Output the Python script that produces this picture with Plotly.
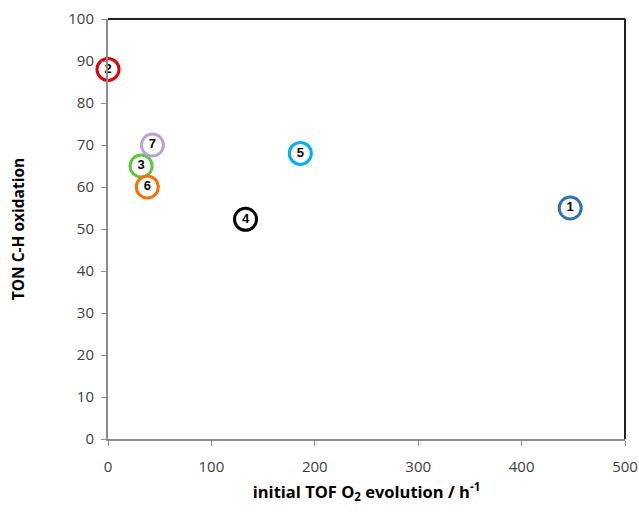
import plotly.graph_objects as go

labels = ["1", "2", "3", "4", "5", "6", "7"]
tof = [447, 0, 32, 133, 186, 38, 43]
ton = [55, 88, 65, 52.3, 68, 60, 70]
colors = ["#2E75B6", "#E00000", "#5CC83A", "#000000", "#00B0F0", "#FF6D00", "#B7A3D3"]

fig = go.Figure()
fig.add_trace(go.Scatter(
    x=tof, y=ton, mode="markers+text",
    text=labels, textposition="middle center",
    textfont=dict(family="Liberation Sans", size=13, color="#000000", weight="bold"),
    marker=dict(size=22, color="white", line=dict(color=colors, width=3)),
    cliponaxis=False, showlegend=False,
))

fig.update_layout(
    width=639, height=516,
    margin=dict(l=108, r=14, t=19, b=77),
    paper_bgcolor="white", plot_bgcolor="white",
    font=dict(family="Open Sans", size=15, color="#404040"),
    xaxis=dict(range=[0, 500], dtick=100, showgrid=False, zeroline=False,
               automargin=False,
               showline=True, linecolor="#8c8c8c", linewidth=2,
               ticks="outside", ticklen=5, tickcolor="#8c8c8c",
               ticklabelstandoff=8,
               tickfont=dict(size=15, color="#404040"),
               title=dict(text="<b>initial TOF O<sub>2</sub> evolution / h<sup>-1</sup></b>",
                          font=dict(size=16.5, color="#000000", family="Open Sans"), standoff=11)),
    yaxis=dict(range=[0, 100], dtick=10, showgrid=False, zeroline=False,
               automargin=False,
               showline=True, linecolor="#8c8c8c", linewidth=2,
               ticks="outside", ticklen=5, tickcolor="#8c8c8c",
               ticklabelstandoff=4,
               tickfont=dict(size=15, color="#404040"),
               title=dict(text="<b>TON C-H oxidation</b>",
                          font=dict(size=15.5, color="#000000", family="Open Sans"), standoff=40)),
)
# top and right frame lines
fig.add_shape(type="line", xref="paper", yref="paper", x0=0, x1=1, y0=1, y1=1,
              line=dict(color="#222222", width=2))
fig.add_shape(type="line", xref="paper", yref="paper", x0=1, x1=1, y0=0, y1=1,
              line=dict(color="#222222", width=2))

fig.write_html("out.html")
